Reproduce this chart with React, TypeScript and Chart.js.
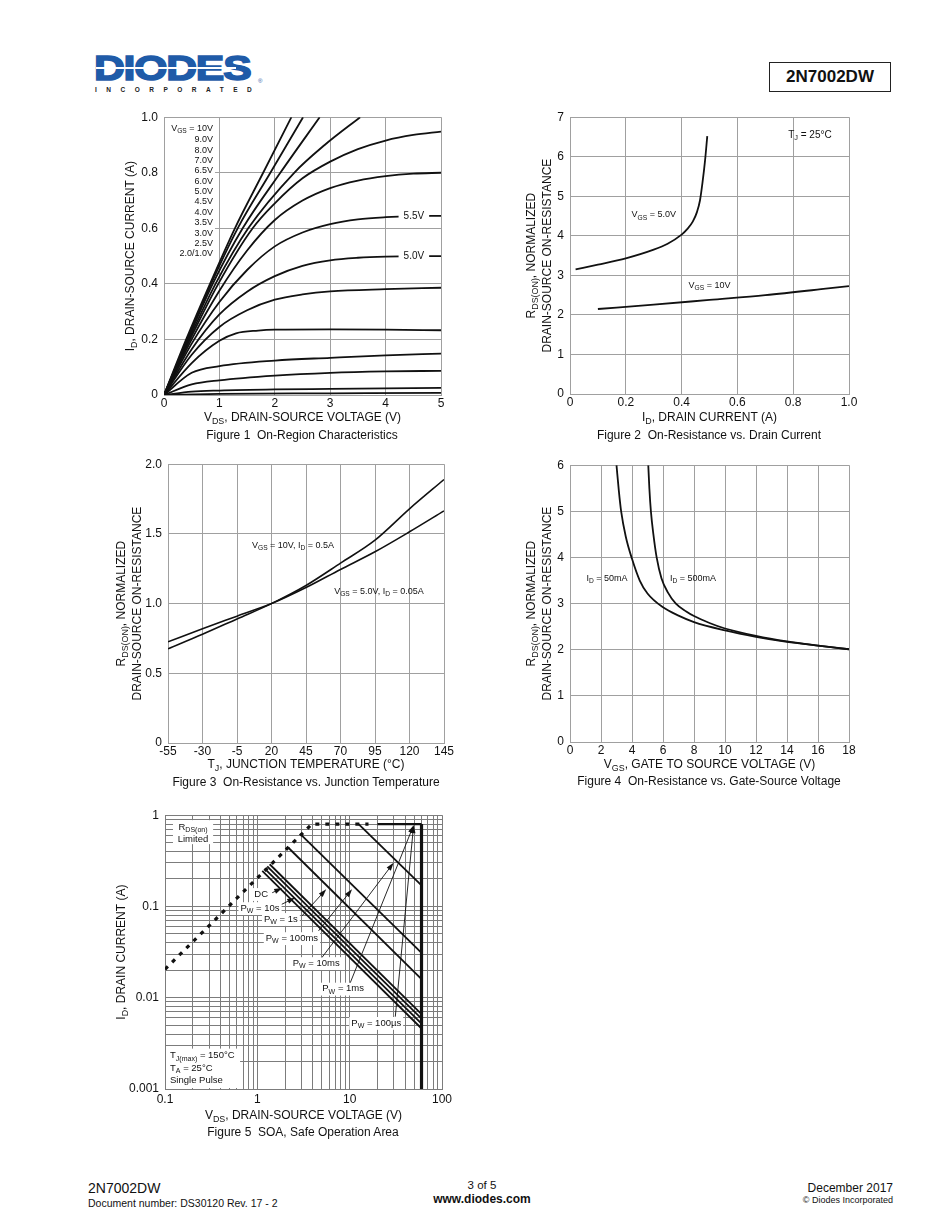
import React, { useEffect, useRef } from "react";
import { Chart, registerables } from "chart.js";

Chart.register(...registerables);

const FONT = '"Liberation Sans", Arial, Helvetica, sans-serif';
const INK = "#111111";
const GRID = "#a0a0a0";
const GRID_SOA = "#7c7c7c";

type Pt = [number, number];

// ---------------- Figure 1: On-Region Characteristics ----------------
const F1_X_TICKS = [0, 1, 2, 3, 4, 5];
const F1_X_LABELS = ["0", "1", "2", "3", "4", "5"];
const F1_Y_TICKS = [0, 0.2, 0.4, 0.6, 0.8, 1.0];
const F1_Y_LABELS = ["0", "0.2", "0.4", "0.6", "0.8", "1.0"];
const F1_C01: Pt[] = [[0, 0], [0.4, 0.2], [0.83, 0.4], [1.28, 0.6], [1.79, 0.8], [2.3, 1.0]];
const F1_C02: Pt[] = [[0, 0], [0.42, 0.2], [0.85, 0.4], [1.33, 0.6], [1.92, 0.8], [2.51, 1.0]];
const F1_C03: Pt[] = [[0, 0], [0.43, 0.2], [0.88, 0.4], [1.42, 0.6], [2.1, 0.8], [2.81, 1.0]];
const F1_C04: Pt[] = [[0, 0], [0.45, 0.2], [0.93, 0.4], [1.52, 0.6], [2.35, 0.8], [2.9, 0.9], [3.54, 1.0]];
const F1_C05: Pt[] = [[0, 0], [0.47, 0.2], [0.98, 0.4], [1.6, 0.6], [2.0, 0.69], [2.5, 0.78], [3, 0.84], [3.5, 0.885], [4, 0.916], [4.5, 0.936], [5, 0.948]];
const F1_C06: Pt[] = [[0, 0], [0.5, 0.2], [1, 0.375], [1.5, 0.52], [2, 0.63], [2.5, 0.7], [3, 0.745], [3.5, 0.772], [4, 0.788], [4.5, 0.797], [5, 0.8]];
const F1_C07: Pt[] = [[0, 0], [0.5, 0.185], [1, 0.335], [1.5, 0.45], [2, 0.535], [2.5, 0.585], [3, 0.615], [3.5, 0.632], [4, 0.64], [4.5, 0.644], [5, 0.645]];
const F1_C08: Pt[] = [[0, 0], [0.5, 0.165], [1, 0.29], [1.5, 0.372], [2, 0.428], [2.5, 0.465], [3, 0.485], [3.5, 0.494], [4, 0.498], [5, 0.5]];
const F1_C09: Pt[] = [[0, 0], [0.5, 0.145], [1, 0.245], [1.5, 0.305], [2, 0.343], [2.5, 0.362], [3, 0.373], [4, 0.381], [5, 0.386]];
const F1_C10: Pt[] = [[0, 0], [0.5, 0.115], [1, 0.195], [1.3, 0.222], [1.7, 0.232], [2, 0.235], [3, 0.236], [4, 0.235], [5, 0.233]];
const F1_C11: Pt[] = [[0, 0], [0.5, 0.08], [1, 0.104], [2, 0.124], [3, 0.134], [4, 0.143], [5, 0.149]];
const F1_C12: Pt[] = [[0, 0], [0.5, 0.038], [1, 0.053], [2, 0.07], [3, 0.08], [4, 0.085], [5, 0.087]];
const F1_C13: Pt[] = [[0, 0], [0.5, 0.012], [1, 0.016], [2, 0.02], [3, 0.022], [4, 0.024], [5, 0.026]];
const F1_C14: Pt[] = [[0, 0], [1, 0.004], [3, 0.006], [5, 0.008]];
const F1_LEGEND = ["V_{GS} = 10V", "9.0V", "8.0V", "7.0V", "6.5V", "6.0V", "5.0V", "4.5V", "4.0V", "3.5V", "3.0V", "2.5V", "2.0/1.0V"];

// ---------------- Figure 2: On-Resistance vs. Drain Current ----------------
const F2_X_TICKS = [0, 0.2, 0.4, 0.6, 0.8, 1.0];
const F2_X_LABELS = ["0", "0.2", "0.4", "0.6", "0.8", "1.0"];
const F2_Y_TICKS = [0, 1, 2, 3, 4, 5, 6, 7];
const F2_Y_LABELS = ["0", "1", "2", "3", "4", "5", "6", "7"];
const F2_VGS_5V: Pt[] = [[0.02, 3.15], [0.1, 3.27], [0.2, 3.43], [0.3, 3.65], [0.35, 3.8], [0.4, 4.03], [0.42, 4.17], [0.44, 4.36], [0.455, 4.6], [0.466, 4.9], [0.475, 5.35], [0.484, 5.9], [0.492, 6.52]];
const F2_VGS_10V: Pt[] = [[0.1, 2.15], [0.3, 2.26], [0.5, 2.38], [0.7, 2.5], [0.9, 2.65], [1.0, 2.73]];

// ---------------- Figure 3: On-Resistance vs. Junction Temperature ----------------
const F3_X_TICKS = [-55, -30, -5, 20, 45, 70, 95, 120, 145];
const F3_X_LABELS = ["-55", "-30", "-5", "20", "45", "70", "95", "120", "145"];
const F3_Y_TICKS = [0, 0.5, 1.0, 1.5, 2.0];
const F3_Y_LABELS = ["0", "0.5", "1.0", "1.5", "2.0"];
const F3_TEMP = [-55, -30, -5, 20, 45, 70, 95, 120, 145];
const F3_VGS10_ID05: number[] = [0.676, 0.78, 0.89, 1.0, 1.13, 1.29, 1.455, 1.68, 1.89];
const F3_VGS5_ID005: number[] = [0.726, 0.82, 0.91, 1.0, 1.115, 1.245, 1.372, 1.515, 1.665];

// ---------------- Figure 4: On-Resistance vs. Gate-Source Voltage ----------------
const F4_X_TICKS = [0, 2, 4, 6, 8, 10, 12, 14, 16, 18];
const F4_X_LABELS = ["0", "2", "4", "6", "8", "10", "12", "14", "16", "18"];
const F4_Y_TICKS = [0, 1, 2, 3, 4, 5, 6];
const F4_Y_LABELS = ["0", "1", "2", "3", "4", "5", "6"];
const F4_ID_50MA: Pt[] = [[3.0, 6.0], [3.15, 5.45], [3.3, 5.0], [3.6, 4.45], [4, 3.97], [4.5, 3.5], [5, 3.22], [6, 2.92], [7, 2.74], [8, 2.6], [10, 2.42], [12, 2.28], [14, 2.17], [16, 2.09], [18, 2.01]];
const F4_ID_500MA: Pt[] = [[5.05, 6.0], [5.12, 5.5], [5.22, 5.0], [5.38, 4.5], [5.59, 4.0], [5.9, 3.55], [6.3, 3.25], [6.83, 3.0], [7.5, 2.83], [8, 2.73], [9, 2.58], [10, 2.46], [12, 2.3], [14, 2.18], [16, 2.09], [18, 2.01]];

// ---------------- Figure 5: SOA ----------------
const F5_X_TICKS = [0.1, 1, 10, 100];
const F5_X_LABELS = ["0.1", "1", "10", "100"];
const F5_Y_TICKS = [0.001, 0.01, 0.1, 1];
const F5_Y_LABELS = ["0.001", "0.01", "0.1", "1"];
const F5_RDS_LIMIT: Pt[] = [[0.1, 0.0205], [3.9, 0.8], [16, 0.8]];
const F5_ID_MAX: Pt[] = [[20, 0.8], [60, 0.8]];
const F5_VDS_MAX: Pt[] = [[60, 0.8], [60, 0.001]];
const F5_DC: Pt[] = [[1.13, 0.245], [60, 0.0046]];
const F5_PW_10S: Pt[] = [[1.2, 0.26], [60, 0.0052]];
const F5_PW_1S: Pt[] = [[1.28, 0.275], [60, 0.0059]];
const F5_PW_100MS: Pt[] = [[1.36, 0.29], [60, 0.0066]];
const F5_PW_10MS: Pt[] = [[2.17, 0.44], [60, 0.016]];
const F5_PW_1MS: Pt[] = [[2.91, 0.625], [60, 0.031]];
const F5_PW_100US: Pt[] = [[12.5, 0.8], [60, 0.17]];

function decadeGrid(from: number, to: number): number[] {
  const out: number[] = [];
  for (let d = from; d < to * 0.999; d *= 10) {
    for (let k = 1; k <= 9; k++) out.push(Number((d * k).toPrecision(3)));
  }
  out.push(to);
  return out;
}

// ---------------- helpers ----------------
type Seg = { t: string; sub: boolean };
function parseRich(s: string): Seg[] {
  const out: Seg[] = [];
  const re = /_\{([^}]*)\}/g;
  let last = 0;
  let m: RegExpExecArray | null;
  while ((m = re.exec(s))) {
    if (m.index > last) out.push({ t: s.slice(last, m.index), sub: false });
    out.push({ t: m[1], sub: true });
    last = m.index + m[0].length;
  }
  if (last < s.length) out.push({ t: s.slice(last), sub: false });
  return out;
}

type RichOpt = { size: number; align?: "left" | "center" | "right"; rotate?: boolean; bg?: number; weight?: string };
function drawRich(ctx: CanvasRenderingContext2D, text: string, x: number, y: number, o: RichOpt) {
  const segs = parseRich(text);
  const subSize = o.size * 0.74;
  const w8 = o.weight || "normal";
  ctx.save();
  ctx.translate(x, y);
  if (o.rotate) ctx.rotate(-Math.PI / 2);
  let total = 0;
  const widths = segs.map((g) => {
    ctx.font = `${w8} ${g.sub ? subSize : o.size}px ${FONT}`;
    const w = ctx.measureText(g.t).width;
    total += w;
    return w;
  });
  const align = o.align || "center";
  let cx = align === "left" ? 0 : align === "center" ? -total / 2 : -total;
  if (o.bg !== undefined) {
    ctx.fillStyle = "#ffffff";
    ctx.fillRect(cx - o.bg, -o.size * 0.62, total + 2 * o.bg, o.size * 1.35);
  }
  ctx.fillStyle = INK;
  ctx.textAlign = "left";
  ctx.textBaseline = "middle";
  segs.forEach((g, i) => {
    ctx.font = `${w8} ${g.sub ? subSize : o.size}px ${FONT}`;
    ctx.fillText(g.t, cx, g.sub ? o.size * 0.32 : 0);
    cx += widths[i];
  });
  ctx.restore();
}

function drawArrow(ctx: CanvasRenderingContext2D, x1: number, y1: number, x2: number, y2: number) {
  ctx.save();
  ctx.strokeStyle = INK;
  ctx.fillStyle = INK;
  ctx.lineWidth = 0.9;
  const a = Math.atan2(y2 - y1, x2 - x1);
  const L = 8;
  const W = 2.6;
  ctx.beginPath();
  ctx.moveTo(x1, y1);
  ctx.lineTo(x2 - (L - 1) * Math.cos(a), y2 - (L - 1) * Math.sin(a));
  ctx.stroke();
  ctx.beginPath();
  ctx.moveTo(x2, y2);
  ctx.lineTo(x2 - L * Math.cos(a) + W * Math.sin(a), y2 - L * Math.sin(a) - W * Math.cos(a));
  ctx.lineTo(x2 - L * Math.cos(a) - W * Math.sin(a), y2 - L * Math.sin(a) + W * Math.cos(a));
  ctx.closePath();
  ctx.fill();
  ctx.restore();
}

type Frame = { L: number; T: number; R: number; B: number; padL: number; padT: number; padR: number; padB: number };
type Axis = { type: "linear" | "logarithmic"; min: number; max: number; ticks: number[]; labels: string[]; pad: number; grid?: number[] };

function scaleOpts(ax: Axis, horizontal: boolean, f: Frame, gridColor: string) {
  const gridVals = ax.grid ?? ax.ticks;
  return {
    type: ax.type,
    min: ax.min,
    max: ax.max,
    afterBuildTicks: (s: any) => {
      s.ticks = gridVals.map((v) => ({ value: v }));
    },
    afterFit: (s: any) => {
      if (horizontal) s.height = f.padB;
      else s.width = f.padL;
    },
    ticks: {
      autoSkip: false,
      maxRotation: 0,
      minRotation: 0,
      padding: ax.pad,
      color: INK,
      font: { family: FONT, size: 12 },
      callback: (v: any) => {
        const n = Number(v);
        const i = ax.ticks.findIndex((t) => Math.abs(t - n) <= Math.abs(t) * 1e-6 + 1e-9);
        return i >= 0 ? ax.labels[i] : "";
      },
    },
    grid: { color: gridColor, lineWidth: 1, drawTicks: false },
    border: { display: true, color: gridColor, width: 1 },
  };
}

function line(pts: Pt[], width = 1.8, extra: any = {}) {
  return {
    data: pts.map(([x, y]) => ({ x, y })),
    borderColor: INK,
    borderWidth: width,
    pointRadius: 0,
    fill: false,
    cubicInterpolationMode: "monotone",
    ...extra,
  };
}

type Hooks = { before?: (c: any) => void; after?: (c: any) => void };

function makeConfig(f: Frame, xa: Axis, ya: Axis, datasets: any[], hooks: Hooks, gridColor = GRID) {
  return {
    type: "line",
    data: { datasets },
    options: {
      responsive: false,
      animation: false,
      devicePixelRatio: 1,
      events: [],
      layout: { padding: { left: 0, top: f.padT, right: f.padR, bottom: 0 } },
      plugins: { legend: { display: false }, tooltip: { enabled: false }, title: { display: false } },
      elements: { point: { radius: 0 } },
      scales: { x: scaleOpts(xa, true, f, gridColor), y: scaleOpts(ya, false, f, gridColor) },
    },
    plugins: [
      {
        id: "annot",
        beforeDatasetsDraw: (c: any) => hooks.before && hooks.before(c),
        afterDatasetsDraw: (c: any) => hooks.after && hooks.after(c),
      },
    ],
  } as any;
}

function P(c: any, x: number, y: number): [number, number] {
  return [c.scales.x.getPixelForValue(x), c.scales.y.getPixelForValue(y)];
}

function titles(c: any, yLines: { text: string; off: number }[], xTitle: string, xOff: number) {
  const ctx = c.ctx as CanvasRenderingContext2D;
  const a = c.chartArea;
  const cy = (a.top + a.bottom) / 2;
  yLines.forEach((l) => drawRich(ctx, l.text, a.left - l.off, cy, { size: 12, rotate: true }));
  drawRich(ctx, xTitle, (a.left + a.right) / 2, a.bottom + xOff, { size: 12 });
}

// ---------------- figure specs ----------------
const FR1: Frame = { L: 164, T: 116, R: 441, B: 395, padL: 75, padT: 12, padR: 18, padB: 34 };
const FR2: Frame = { L: 570, T: 116, R: 849, B: 394, padL: 75, padT: 12, padR: 18, padB: 34 };
const FR3: Frame = { L: 168, T: 463, R: 444, B: 743, padL: 75, padT: 12, padR: 18, padB: 34 };
const FR4: Frame = { L: 570, T: 464, R: 849, B: 742, padL: 75, padT: 12, padR: 18, padB: 34 };
const FR5: Frame = { L: 165, T: 814, R: 442, B: 1089, padL: 75, padT: 12, padR: 18, padB: 38 };

const RDS_TITLE = [
  { text: "R_{DS(ON)}, NORMALIZED", off: 38 },
  { text: "DRAIN-SOURCE ON-RESISTANCE", off: 22 },
];

function build1() {
  const xa: Axis = { type: "linear", min: 0, max: 5, ticks: F1_X_TICKS, labels: F1_X_LABELS, pad: 1 };
  const ya: Axis = { type: "linear", min: 0, max: 1, ticks: F1_Y_TICKS, labels: F1_Y_LABELS, pad: 6 };
  const curves = [F1_C01, F1_C02, F1_C03, F1_C04, F1_C05, F1_C06, F1_C07, F1_C08, F1_C09, F1_C10, F1_C11, F1_C12, F1_C13, F1_C14];
  return makeConfig(FR1, xa, ya, curves.map((c) => line(c, 1.8)), {
    before: (c) => {
      const ctx = c.ctx as CanvasRenderingContext2D;
      const a = c.chartArea;
      const [bx, by] = P(c, 0.92, 0.475);
      ctx.fillStyle = "#ffffff";
      ctx.fillRect(a.left + 1, a.top + 1, bx - a.left - 1, by - a.top - 1);
      const [tx, ty] = P(c, 0.885, 0.961);
      F1_LEGEND.forEach((t, i) => drawRich(ctx, t, tx, ty + (i === 0 ? 0 : 1.5) + i * 10.35, { size: 9, align: "right" }));
    },
    after: (c) => {
      const ctx = c.ctx as CanvasRenderingContext2D;
      let [x, y] = P(c, 4.51, 0.645);
      drawRich(ctx, "5.5V", x, y, { size: 10, bg: 5 });
      [x, y] = P(c, 4.51, 0.5);
      drawRich(ctx, "5.0V", x, y, { size: 10, bg: 5 });
      titles(c, [{ text: "I_{D}, DRAIN-SOURCE CURRENT (A)", off: 33 }], "V_{DS}, DRAIN-SOURCE VOLTAGE (V)", 23);
    },
  });
}

function build2() {
  const xa: Axis = { type: "linear", min: 0, max: 1, ticks: F2_X_TICKS, labels: F2_X_LABELS, pad: 1 };
  const ya: Axis = { type: "linear", min: 0, max: 7, ticks: F2_Y_TICKS, labels: F2_Y_LABELS, pad: 6 };
  return makeConfig(FR2, xa, ya, [line(F2_VGS_5V, 1.8), line(F2_VGS_10V, 1.8)], {
    after: (c) => {
      const ctx = c.ctx as CanvasRenderingContext2D;
      let [x, y] = P(c, 0.86, 6.55);
      drawRich(ctx, "T_{J} = 25°C", x, y, { size: 10 });
      [x, y] = P(c, 0.3, 4.53);
      drawRich(ctx, "V_{GS} = 5.0V", x, y, { size: 9 });
      [x, y] = P(c, 0.5, 2.75);
      drawRich(ctx, "V_{GS} = 10V", x, y, { size: 9 });
      titles(c, RDS_TITLE, "I_{D}, DRAIN CURRENT (A)", 24);
    },
  });
}

function build3() {
  const xa: Axis = { type: "linear", min: -55, max: 145, ticks: F3_X_TICKS, labels: F3_X_LABELS, pad: 1 };
  const ya: Axis = { type: "linear", min: 0, max: 2, ticks: F3_Y_TICKS, labels: F3_Y_LABELS, pad: 6 };
  const a: Pt[] = F3_TEMP.map((t, i) => [t, F3_VGS10_ID05[i]]);
  const b: Pt[] = F3_TEMP.map((t, i) => [t, F3_VGS5_ID005[i]]);
  return makeConfig(FR3, xa, ya, [line(a, 1.6), line(b, 1.6)], {
    after: (c) => {
      const ctx = c.ctx as CanvasRenderingContext2D;
      let [x, y] = P(c, 35.6, 1.418);
      drawRich(ctx, "V_{GS} = 10V, I_{D} = 0.5A", x, y, { size: 9 });
      [x, y] = P(c, 97.9, 1.09);
      drawRich(ctx, "V_{GS} = 5.0V, I_{D} = 0.05A", x, y, { size: 9 });
      titles(c, [{ text: "R_{DS(ON)}, NORMALIZED", off: 46 }, { text: "DRAIN-SOURCE ON-RESISTANCE", off: 30 }], "T_{J}, JUNCTION TEMPERATURE (°C)", 22);
    },
  });
}

function build4() {
  const xa: Axis = { type: "linear", min: 0, max: 18, ticks: F4_X_TICKS, labels: F4_X_LABELS, pad: 1 };
  const ya: Axis = { type: "linear", min: 0, max: 6, ticks: F4_Y_TICKS, labels: F4_Y_LABELS, pad: 6 };
  return makeConfig(FR4, xa, ya, [line(F4_ID_50MA, 1.8), line(F4_ID_500MA, 1.8)], {
    after: (c) => {
      const ctx = c.ctx as CanvasRenderingContext2D;
      let [x, y] = P(c, 2.39, 3.54);
      drawRich(ctx, "I_{D} = 50mA", x, y, { size: 9 });
      [x, y] = P(c, 7.94, 3.54);
      drawRich(ctx, "I_{D} = 500mA", x, y, { size: 9 });
      titles(c, RDS_TITLE, "V_{GS}, GATE TO SOURCE VOLTAGE (V)", 23);
    },
  });
}

const F5_NOTES = [
  { text: "DC", x: 1.1, y: 0.137 },
  { text: "P_{W} = 10s", x: 1.07, y: 0.096 },
  { text: "P_{W} = 1s", x: 1.8, y: 0.073 },
  { text: "P_{W} = 100ms", x: 2.37, y: 0.045 },
  { text: "P_{W} = 10ms", x: 4.34, y: 0.024 },
  { text: "P_{W} = 1ms", x: 8.5, y: 0.0126 },
  { text: "P_{W} = 100µs", x: 19.4, y: 0.0053 },
];
const F5_ARROWS: { from: Pt; to: Pt }[] = [
  { from: [1.45, 0.1415], to: [1.86, 0.159] },
  { from: [1.84, 0.1057], to: [2.57, 0.1248] },
  { from: [3.04, 0.0787], to: [5.57, 0.154] },
  { from: [4.6, 0.054], to: [10.6, 0.154] },
  { from: [5.01, 0.0276], to: [29.9, 0.301] },
  { from: [10.15, 0.0146], to: [49.3, 0.778] },
  { from: [31.2, 0.0062], to: [49.3, 0.778] },
];

function build5() {
  const xa: Axis = { type: "logarithmic", min: 0.1, max: 100, ticks: F5_X_TICKS, labels: F5_X_LABELS, pad: 3, grid: decadeGrid(0.1, 100) };
  const ya: Axis = { type: "logarithmic", min: 0.001, max: 1, ticks: F5_Y_TICKS, labels: F5_Y_LABELS, pad: 6, grid: decadeGrid(0.001, 1) };
  const straight = { cubicInterpolationMode: "default", tension: 0 };
  const ds = [
    line(F5_RDS_LIMIT, 3.2, { ...straight, borderDash: [4, 6], borderCapStyle: "butt" }),
    line(F5_ID_MAX, 2.2, straight),
    line(F5_VDS_MAX, 3.2, straight),
    line(F5_DC, 1.8, straight),
    line(F5_PW_10S, 1.8, straight),
    line(F5_PW_1S, 1.8, straight),
    line(F5_PW_100MS, 1.8, straight),
    line(F5_PW_10MS, 1.8, straight),
    line(F5_PW_1MS, 1.8, straight),
    line(F5_PW_100US, 1.8, straight),
  ];
  return makeConfig(
    FR5,
    xa,
    ya,
    ds,
    {
      before: (c) => {
        const ctx = c.ctx as CanvasRenderingContext2D;
        const a = c.chartArea;
        ctx.fillStyle = "#ffffff";
        let [x1, y1] = P(c, 0.122, 0.882);
        let [x2, y2] = P(c, 0.332, 0.482);
        ctx.fillRect(x1, y1, x2 - x1, y2 - y1);
        let [tx, ty] = P(c, 0.201, 0.74);
        drawRich(ctx, "R_{DS(on)}", tx, ty, { size: 9.5 });
        [tx, ty] = P(c, 0.201, 0.547);
        drawRich(ctx, "Limited", tx, ty, { size: 9.5 });
        ctx.fillStyle = "#ffffff";
        [x2, y1] = P(c, 0.65, 0.00277);
        ctx.fillRect(a.left + 1, y1, x2 - a.left - 1, a.bottom - y1 - 1);
        const [lx] = P(c, 0.1133, 0.001);
        [, ty] = P(c, 0.1, 0.00232);
        drawRich(ctx, "T_{J(max)} = 150°C", lx, ty, { size: 9.5, align: "left" });
        [, ty] = P(c, 0.1, 0.00168);
        drawRich(ctx, "T_{A} = 25°C", lx, ty, { size: 9.5, align: "left" });
        [, ty] = P(c, 0.1, 0.00124);
        drawRich(ctx, "Single Pulse", lx, ty, { size: 9.5, align: "left" });
        F5_NOTES.forEach((n) => {
          const [nx, ny] = P(c, n.x, n.y);
          drawRich(ctx, n.text, nx, ny, { size: 9.5, bg: 2 });
        });
      },
      after: (c) => {
        const ctx = c.ctx as CanvasRenderingContext2D;
        F5_ARROWS.forEach((ar) => {
          const [x1, y1] = P(c, ar.from[0], ar.from[1]);
          const [x2, y2] = P(c, ar.to[0], ar.to[1]);
          drawArrow(ctx, x1, y1, x2, y2);
        });
        titles(c, [{ text: "I_{D}, DRAIN CURRENT (A)", off: 43 }], "V_{DS}, DRAIN-SOURCE VOLTAGE (V)", 27);
      },
    },
    GRID_SOA
  );
}

// ---------------- components ----------------
function Plot({ frame, build }: { frame: Frame; build: () => any }) {
  const ref = useRef<HTMLCanvasElement | null>(null);
  const w = frame.R - frame.L + frame.padL + frame.padR;
  const h = frame.B - frame.T + frame.padT + frame.padB;
  useEffect(() => {
    const chart = new Chart(ref.current as HTMLCanvasElement, build());
    return () => chart.destroy();
  }, []);
  return (
    <canvas
      ref={ref}
      width={w}
      height={h}
      style={{ position: "absolute", left: frame.L - frame.padL, top: frame.T - frame.padT, width: w, height: h }}
    />
  );
}

function Txt({ x, y, children, size = 12, align = "center", bold = false, w = 420, family = FONT, color = INK }: any) {
  const left = align === "center" ? x - w / 2 : align === "right" ? x - w : x;
  return (
    <div
      style={{
        position: "absolute",
        left,
        top: y - size * 0.6,
        width: w,
        textAlign: align,
        fontSize: size,
        lineHeight: `${size * 1.2}px`,
        fontWeight: bold ? 700 : 400,
        fontFamily: family,
        whiteSpace: "pre",
        color,
      }}
    >
      {children}
    </div>
  );
}

export default function App() {
  return (
    <div style={{ position: "absolute", left: 0, top: 0, width: 950, height: 1230, background: "#ffffff", fontFamily: FONT, color: INK, overflow: "hidden" }}>
      {/* header logo */}
      <div
        style={{
          position: "absolute",
          left: 94,
          top: 48,
          fontFamily: FONT,
          fontWeight: 700,
          fontSize: 35,
          lineHeight: "40px",
          color: "#1f5ba8",
          WebkitTextStroke: "1.6px #1f5ba8",
          transform: "scaleX(1.22)",
          transformOrigin: "left top",
          letterSpacing: -1,
        }}
      >
        DIODES
      </div>
      <div style={{ position: "absolute", left: 96, top: 67, width: 140, height: 2, background: "#ffffff" }} />
      <div style={{ position: "absolute", left: 258, top: 78, fontSize: 6, lineHeight: "7px", color: "#1f5ba8" }}>®</div>
      <div style={{ position: "absolute", left: 95, top: 86, fontSize: 6.5, lineHeight: "8px", fontWeight: 700, letterSpacing: 9.5, color: "#222" }}>
        INCORPORATED
      </div>
      <div
        style={{
          position: "absolute",
          left: 769,
          top: 62,
          width: 120,
          height: 28,
          border: "1.5px solid #222",
          textAlign: "center",
          fontWeight: 700,
          fontSize: 17,
          lineHeight: "28px",
        }}
      >
        2N7002DW
      </div>

      <Plot frame={FR1} build={build1} />
      <Plot frame={FR2} build={build2} />
      <Plot frame={FR3} build={build3} />
      <Plot frame={FR4} build={build4} />
      <Plot frame={FR5} build={build5} />

      <Txt x={302} y={435}>{"Figure 1  On-Region Characteristics"}</Txt>
      <Txt x={709} y={435}>{"Figure 2  On-Resistance vs. Drain Current"}</Txt>
      <Txt x={306} y={782}>{"Figure 3  On-Resistance vs. Junction Temperature"}</Txt>
      <Txt x={709} y={781}>{"Figure 4  On-Resistance vs. Gate-Source Voltage"}</Txt>
      <Txt x={303} y={1132}>{"Figure 5  SOA, Safe Operation Area"}</Txt>

      {/* footer */}
      <Txt x={88} y={1188} size={14} align="left">2N7002DW</Txt>
      <Txt x={88} y={1203} size={10.5} align="left">Document number: DS30120 Rev. 17 - 2</Txt>
      <Txt x={482} y={1186} size={11.5}>3 of 5</Txt>
      <Txt x={482} y={1199} size={12} bold>www.diodes.com</Txt>
      <Txt x={893} y={1188} size={12} align="right">December 2017</Txt>
      <Txt x={893} y={1200} size={9} align="right">© Diodes Incorporated</Txt>
    </div>
  );
}
